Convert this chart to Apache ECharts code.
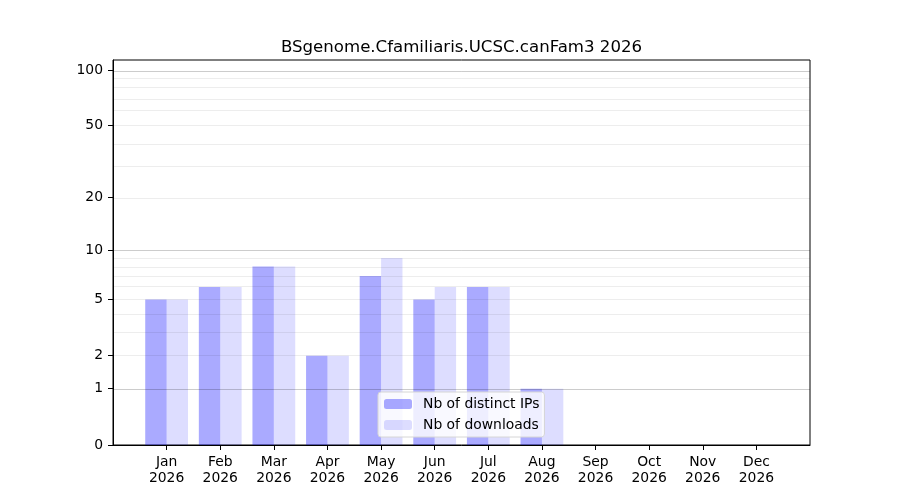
<!DOCTYPE html>
<html>
<head>
    <meta charset="utf-8" />
    <script src="https://cdn.jsdelivr.net/npm/echarts@6/dist/echarts.min.js"></script>
</head>
<body style="margin:0">
    <div id="main" style="width: 900px;height: 500px;"></div>

    <script type="text/javascript">
        // values
        var months = ['Jan', 'Feb', 'Mar', 'Apr', 'May', 'Jun', 'Jul', 'Aug', 'Sep', 'Oct', 'Nov', 'Dec'];
        var year = '2026';
        var distinctIPs = [5, 6, 8, 2, 7, 5, 6, 1, 0, 0, 0, 0];
        var downloads = [5, 6, 8, 2, 9, 6, 6, 1, 0, 0, 0, 0];
        var yTicks = [0, 1, 2, 5, 10, 20, 50, 100];
        var majorGrid = [1, 10, 100];
        var minorGrid = [2, 3, 4, 5, 6, 7, 8, 9, 20, 30, 40, 50, 60, 70, 80, 90];

        // y axis is log10(1 + x)
        function tr(v) { return Math.log10(1 + v); }
        function untr(v) { return Math.round(Math.pow(10, v) - 1); }

        var font = 'DejaVu Sans';
        var chartDom = document.getElementById('main');
        var myChart = echarts.init(chartDom);

        var gridLines = minorGrid.map(function (v) {
            return { yAxis: tr(v), lineStyle: { color: 'rgba(0,0,0,0.07)' } };
        }).concat(majorGrid.map(function (v) {
            return { yAxis: tr(v), lineStyle: { color: 'rgba(0,0,0,0.2)' } };
        }));

        var option = {
            animation: false,
            title: {
                text: 'BSgenome.Cfamiliaris.UCSC.canFam3 ' + year,
                left: 456.5,
                textAlign: 'center',
                top: 34,
                textStyle: { fontFamily: font, fontSize: 16.6, fontWeight: 'normal', color: '#000' }
            },
            legend: {
                orient: 'vertical',
                left: 378,
                top: 392,
                itemWidth: 28,
                itemHeight: 10,
                itemGap: 7,
                padding: [5, 5, 5, 6],
                backgroundColor: 'rgba(255,255,255,0.8)',
                borderColor: '#d6d6d6',
                borderWidth: 1,
                borderRadius: 3,
                textStyle: { fontFamily: font, fontSize: 13.9, color: '#000', padding: [0, 0, 0, 6] },
                data: ['Nb of distinct IPs', 'Nb of downloads']
            },
            grid: {
                left: 113, right: 90, top: 60, bottom: 55,
                show: true, borderColor: '#000', borderWidth: 1
            },
            xAxis: {
                type: 'value',
                min: -1,
                max: 12,
                splitLine: { show: false },
                axisLine: { onZero: false, lineStyle: { color: '#000' } },
                axisTick: {
                    customValues: months.map(function (m, i) { return i; }),
                    length: 5,
                    lineStyle: { color: '#000' }
                },
                axisLabel: {
                    customValues: months.map(function (m, i) { return i; }),
                    formatter: function (v) { return months[v] + '\n' + year; },
                    fontFamily: font,
                    fontSize: 13.9,
                    lineHeight: 16,
                    color: '#000',
                    margin: 9
                }
            },
            yAxis: {
                type: 'value',
                min: 0,
                max: 2.0577,
                splitLine: { show: false },
                axisLine: { show: true, onZero: false, lineStyle: { color: '#000' } },
                axisTick: {
                    show: true,
                    customValues: yTicks.map(tr),
                    length: 5,
                    lineStyle: { color: '#000' }
                },
                axisLabel: {
                    customValues: yTicks.map(tr),
                    formatter: function (v) { return String(untr(v)); },
                    fontFamily: font,
                    fontSize: 13.9,
                    color: '#000',
                    margin: 10,
                    padding: [2, 0, 0, 0]
                }
            },
            series: [
                {
                    type: 'line',
                    data: [],
                    z: 1,
                    silent: true,
                    markLine: {
                        silent: true,
                        symbol: ['none', 'none'],
                        label: { show: false },
                        lineStyle: { type: 'solid', width: 1 },
                        data: gridLines
                    }
                },
                {
                    name: 'Nb of distinct IPs',
                    type: 'bar',
                    z: 2,
                    barWidth: 21.4,
                    barGap: '0%',
                    itemStyle: { color: 'rgba(0,0,255,0.333)' },
                    data: distinctIPs.map(function (v, i) { return [i, tr(v)]; })
                },
                {
                    name: 'Nb of downloads',
                    type: 'bar',
                    z: 2,
                    barWidth: 21.4,
                    barGap: '0%',
                    itemStyle: { color: 'rgba(0,0,255,0.133)' },
                    data: downloads.map(function (v, i) { return [i, tr(v)]; })
                }
            ]
        };

        option && myChart.setOption(option);
    </script>
</body>
</html>
